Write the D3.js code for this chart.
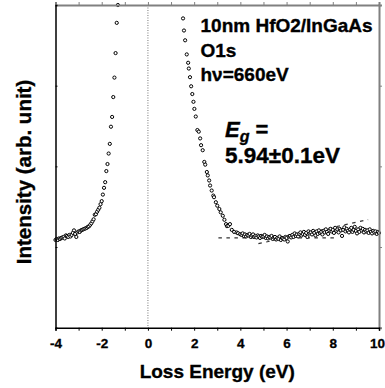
<!DOCTYPE html>
<html>
<head>
<meta charset="utf-8">
<script src="https://cdn.jsdelivr.net/npm/d3@7"></script>
<style>
  body { margin: 0; background: #fff; }
</style>
</head>
<body>
<div id="chart"></div>
<script>
// Data: loss spectrum, energies in eV, intensity in arb. units
const energyStep = 0.05

// Elastic peak tail, -4.00 .. -1.30 eV
const leftStart = -4.0
const leftIntensity = [87, 88, 87, 88.5, 88, 89, 89.5, 90, 88.5, 91.5, 91, 90, 92, 90.5, 92,
  94, 96.5, 93, 90, 94.5, 95.5, 95, 96.5, 97, 97.5, 98, 98.5, 99, 100, 100.5, 102, 103.5,
  105.5, 107.5, 112, 112.5, 115, 117, 119, 122.5, 125.5, 132, 138.7, 144.3, 155.3, 162.3,
  172.7, 182.3, 199.3, 209, 228.7, 248, 272.3, 302.3, 320]

// Steep falling edge after the peak
const edgeEnergy = [1.52, 1.56, 1.61, 1.68, 1.74, 1.77, 1.82, 1.87, 1.92, 1.97, 2.01, 2.07,
  2.14, 2.20, 2.26, 2.30, 2.37, 2.44, 2.48, 2.55, 2.59, 2.65, 2.69, 2.76, 2.83, 2.86, 2.94,
  3.00, 3.09, 3.15, 3.24, 3.31, 3.38, 3.42, 3.48, 3.55, 3.63, 3.73, 3.84, 3.90, 3.99]
const edgeIntensity = [306.7, 294.7, 285, 271, 262.7, 257, 248.4, 239.4, 231.7, 224, 217, 209.4,
  196, 194.4, 187.7, 181, 176, 164.4, 161.7, 154.4, 151, 146, 141, 136, 131, 129.4, 124.4,
  121, 117.7, 114.4, 111, 107, 102.7, 100.7, 101, 102.7, 97, 95, 94.4, 93.7, 92.7]

// Background region, 4.05 .. 10.00 eV
const tailStart = 4.05
const tailIntensity = [92, 93.5, 91, 92.5, 90.5, 92, 91.5, 93, 90, 91.5,
  92.5, 90, 91, 89.5, 91.5, 90.5, 89, 91, 90, 90.5,
  92, 89, 90.5, 88.5, 90, 89.5, 91, 88, 89.5, 90,
  87.5, 89, 88, 90.5, 87, 89, 88.5, 87.5, 90, 89,
  85.5, 90.5, 91, 89.5, 92, 90, 93.5, 91, 92.5, 90.5,
  93, 94.5, 91.5, 93, 95, 92, 94, 90, 95.5, 93.5,
  94.5, 92.5, 96, 94, 91.5, 95.5, 93, 96.5, 94, 95,
  92.5, 96, 94.5, 97.5, 95, 93, 96.5, 98, 95.5, 97,
  94, 99, 96, 97.5, 94.5, 98, 96.5, 91, 97, 99.5,
  95.5, 98, 96, 94.5, 97.5, 99, 95, 97, 100, 96,
  93.5, 97.5, 95, 99, 96.5, 98, 94.5, 97, 95.5, 96.5,
  94, 97.5, 95, 93.5, 96, 94.5, 95.5, 93, 95, 94]

// Linear fits used for the gap estimate
const baseFitEnergy = [3.05, 8.16]
const baseFitIntensity = [89, 89]
const edgeFitEnergy = [4.78, 9.53]
const edgeFitIntensity = [83.3, 107.2]

const xTicks = d3.range(-4, 11, 1)
const yTicks = [80, 160, 240]

// Dimensions
const width = 385, height = 388
const margin = {top: 5, right: 6, bottom: 60.3, left: 55.5}
const plotWidth = width - margin.left - margin.right
const plotHeight = height - margin.top - margin.bottom
const fontFamily = "'Liberation Sans', Arial, Helvetica, sans-serif"

const svg = d3.select("#chart")
  .append("svg")
    .attr("width", width)
    .attr("height", height)

const plot = svg.append("g")
    .attr("transform", `translate(${margin.left},${margin.top})`)

const xScale = d3.scaleLinear().domain([-4, 10]).range([0, plotWidth])
const yScale = d3.scaleLinear().domain([0, 320]).range([plotHeight, 0])

// Build point list
let points = []
leftIntensity.forEach(function(v, i) { points.push({e: leftStart + i * energyStep, v: v}) })
edgeIntensity.forEach(function(v, i) { points.push({e: edgeEnergy[i], v: v}) })
tailIntensity.forEach(function(v, i) { points.push({e: tailStart + i * energyStep, v: v}) })

// Bold text with a slightly heavier look
function boldText(sel, size) {
  return sel
    .style("font-family", fontFamily)
    .style("font-weight", "700")
    .style("font-size", size + "px")
    .attr("fill", "#000")
    .attr("stroke", "#000")
    .attr("stroke-width", 0.35)
}

// Zero loss marker
plot.append("line")
    .attr("x1", xScale(0)).attr("x2", xScale(0))
    .attr("y1", 0).attr("y2", plotHeight)
    .attr("stroke", "#777")
    .attr("stroke-width", 1)
    .attr("stroke-dasharray", "1,1.5")

// Fit lines
const fitLine = d3.line()
    .x(function(d) { return xScale(d[0]) })
    .y(function(d) { return yScale(d[1]) })

plot.append("path")
    .datum(d3.zip(baseFitEnergy, baseFitIntensity))
    .attr("d", fitLine)
    .attr("fill", "none")
    .attr("stroke", "#333")
    .attr("stroke-width", 1.2)
    .attr("stroke-dasharray", "3.5,4.5")

plot.append("path")
    .datum(d3.zip(edgeFitEnergy, edgeFitIntensity))
    .attr("d", fitLine)
    .attr("fill", "none")
    .attr("stroke", "#333")
    .attr("stroke-width", 1.2)
    .attr("stroke-dasharray", "3.5,4.5")

// Data points
plot.selectAll(".dot")
    .data(points)
    .enter().append("circle")
    .attr("class", "dot")
    .attr("cx", function(d) { return xScale(d.e) })
    .attr("cy", function(d) { return yScale(d.v) })
    .attr("r", 1.6)
    .attr("fill", "#fff")
    .attr("stroke", "#000")
    .attr("stroke-width", 1)

// Top and right frame (grey)
plot.append("g")
    .call(d3.axisTop(xScale).tickValues(xTicks).tickSize(3).tickFormat(""))
    .call(function(g) {
      g.select(".domain").attr("stroke", "#808080").attr("stroke-width", 2)
      g.selectAll(".tick line").attr("stroke", "#808080")
    })

plot.append("g")
    .attr("transform", `translate(${plotWidth},0)`)
    .call(d3.axisRight(yScale).tickValues(yTicks).tickSize(3).tickFormat(""))
    .call(function(g) {
      g.select(".domain").attr("stroke", "#808080").attr("stroke-width", 2)
      g.selectAll(".tick line").attr("stroke", "#808080")
    })

// Left axis
plot.append("g")
    .call(d3.axisLeft(yScale).tickValues(yTicks).tickSize(-2).tickFormat(""))
    .call(function(g) {
      g.select(".domain").attr("stroke-width", 1.5)
    })

// Bottom axis
plot.append("g")
    .attr("transform", `translate(0,${plotHeight})`)
    .call(d3.axisBottom(xScale)
      .tickValues(xTicks)
      .tickSize(3)
      .tickPadding(8)
      .tickFormat(function(d) { return d % 2 === 0 ? String(d) : "" }))
    .call(function(g) {
      g.attr("font-family", null).attr("font-size", null)
      g.select(".domain").attr("stroke-width", 1.5)
      boldText(g.selectAll("text"), 13.5).attr("stroke-width", 0.3)
      // keep the last label inside the page edge
      g.selectAll(".tick text")
        .filter(function(d) { return d === 10 })
        .attr("text-anchor", "end")
        .attr("x", 5.5)
    })

// Axis titles
svg.append("text")
    .attr("x", margin.left + plotWidth / 2)
    .attr("y", 378)
    .attr("text-anchor", "middle")
    .call(boldText, 19)
    .text("Loss Energy (eV)")

svg.append("text")
    .attr("transform", "translate(31,172) rotate(-90)")
    .attr("text-anchor", "middle")
    .call(boldText, 20.5)
    .text("Intensity (arb. unit)")

// Annotations
const notes = ["10nm HfO2/InGaAs", "O1s", "hν=660eV"]
svg.selectAll(".note")
    .data(notes)
    .enter().append("text")
    .attr("class", "note")
    .attr("x", 200.5)
    .attr("y", function(d, i) { return 32.3 + i * 24.5 })
    .call(boldText, 19)
    .text(function(d) { return d })

const eg = svg.append("text")
    .attr("x", 225)
    .attr("y", 136.7)
    .call(boldText, 22)
eg.append("tspan").style("font-style", "italic").text("E")
eg.append("tspan").style("font-style", "italic").style("font-size", "16px").attr("dy", 5).text("g")
eg.append("tspan").attr("dy", -5).text(" =")

svg.append("text")
    .attr("x", 225)
    .attr("y", 163.3)
    .call(boldText, 22.5)
    .text("5.94±0.1eV")
</script>
</body>
</html>
